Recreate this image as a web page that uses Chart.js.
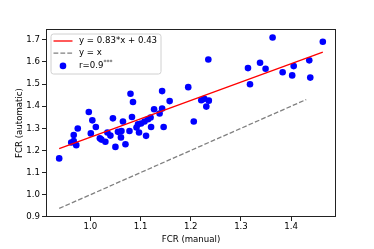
<!DOCTYPE html>
<html><head><meta charset="utf-8">
<script src="https://cdn.jsdelivr.net/npm/chart.js@4.4.0/dist/chart.umd.min.js"></script>
<style>html,body{margin:0;padding:0;background:#fff;}canvas{display:block;}</style>
</head><body>
<canvas id="c" width="374" height="249"></canvas>
<script>
// ---- data ----
const fcrManual = [0.938,0.962,0.967,0.972,0.975,0.997,1.004,1.011,1.001,1.019,1.030,1.034,1.045,1.040,1.050,1.065,1.055,1.062,1.061,1.070,1.078,1.080,1.085,1.143,1.195,1.158,1.127,1.143,1.138,1.083,1.092,1.095,1.101,1.108,1.115,1.120,1.097,1.111,1.121,1.146,1.206,1.235,1.314,1.318,1.338,1.349,1.221,1.227,1.236,1.231,1.363,1.463,1.383,1.405,1.402,1.436,1.438,0.967,1.022];
const fcrAutomatic = [1.164,1.236,1.270,1.224,1.299,1.374,1.336,1.306,1.277,1.255,1.239,1.281,1.345,1.267,1.216,1.331,1.284,1.288,1.259,1.228,1.288,1.456,1.419,1.468,1.486,1.423,1.386,1.389,1.367,1.351,1.304,1.318,1.322,1.331,1.341,1.349,1.281,1.266,1.306,1.306,1.331,1.611,1.572,1.499,1.596,1.569,1.427,1.433,1.425,1.398,1.710,1.691,1.553,1.581,1.539,1.607,1.529,1.242,1.249];
const fitSlope = 0.83;
const fitIntercept = 0.43;
const identityRange = [0.938, 1.43];
const xTicks = [1.0, 1.1, 1.2, 1.3, 1.4];
const yTicks = [0.9, 1.0, 1.1, 1.2, 1.3, 1.4, 1.5, 1.6, 1.7];
const legendLabels = ['y = 0.83*x + 0.43', 'y = x', 'r=0.9***'];
const xTitle = 'FCR (manual)';
const yTitle = 'FCR (automatic)';

// ---- derived ----
const xMin = Math.min(...fcrManual), xMax = Math.max(...fcrManual);
const fitLine = [xMin, xMax].map(x => ({x, y: fitSlope * x + fitIntercept}));
const identityLine = identityRange.map(v => ({x: v, y: v}));
const points = fcrManual.map((x, i) => ({x, y: fcrAutomatic[i]}));

function padRange(vals) {
  const lo = Math.min(...vals), hi = Math.max(...vals), p = (hi - lo) * 0.05;
  return [lo - p, hi + p];
}
const xr = padRange([...fcrManual, ...identityRange]);
const yr = padRange([...fcrAutomatic, ...fitLine.map(p => p.y), ...identityRange]);

const FONT = 'DejaVu Sans';
const FS = 8.6;
Chart.defaults.font.family = FONT;
Chart.defaults.font.size = FS;
Chart.defaults.color = '#000';

const frameAndLegend = {
  id: 'frameAndLegend',
  afterDraw(chart) {
    const ctx = chart.ctx, a = chart.chartArea;
    ctx.save();
    // frame (all four spines)
    ctx.strokeStyle = '#222';
    ctx.lineWidth = 1;
    ctx.strokeRect(Math.round(a.left) + 0.5, Math.round(a.top) + 0.5,
                   Math.round(a.right - a.left) - 1, Math.round(a.bottom - a.top) - 1);
    // legend
    const bx = a.left + 5, by = a.top + 5, bw = 110, bh = 40, r = 2.5;
    ctx.beginPath();
    ctx.moveTo(bx + r, by); ctx.lineTo(bx + bw - r, by);
    ctx.arcTo(bx + bw, by, bx + bw, by + r, r); ctx.lineTo(bx + bw, by + bh - r);
    ctx.arcTo(bx + bw, by + bh, bx + bw - r, by + bh, r); ctx.lineTo(bx + r, by + bh);
    ctx.arcTo(bx, by + bh, bx, by + bh - r, r); ctx.lineTo(bx, by + r);
    ctx.arcTo(bx, by, bx + r, by, r); ctx.closePath();
    ctx.fillStyle = 'rgba(255,255,255,0.8)';
    ctx.fill();
    ctx.strokeStyle = '#d0d0d0';
    ctx.lineWidth = 1;
    ctx.stroke();
    const ds = chart.data.datasets;
    ds.forEach((d, i) => {
      const cy = by + 7 + i * 12.2;
      const hx0 = bx + 2.5, hx1 = bx + 21.5;
      if (d.showLine) {
        ctx.beginPath();
        ctx.setLineDash(d.borderDash || []);
        ctx.strokeStyle = d.borderColor;
        ctx.lineWidth = d.borderWidth;
        ctx.moveTo(hx0, cy); ctx.lineTo(hx1, cy);
        ctx.stroke();
        ctx.setLineDash([]);
      } else {
        ctx.beginPath();
        ctx.fillStyle = d.backgroundColor;
        ctx.arc((hx0 + hx1) / 2, cy + 0.5, d.pointRadius, 0, Math.PI * 2);
        ctx.fill();
      }
      ctx.fillStyle = '#000';
      ctx.textBaseline = 'middle';
      ctx.textAlign = 'left';
      const m = d.label.match(/^(.*?)(\*+)$/);
      ctx.font = FS + 'px "' + FONT + '"';
      if (m) {
        ctx.fillText(m[1], bx + 28, cy);
        const w = ctx.measureText(m[1]).width;
        ctx.font = (FS * 0.7) + 'px "' + FONT + '"';
        ctx.fillText(m[2], bx + 28 + w, cy - 2.5);
      } else {
        ctx.fillText(d.label, bx + 28, cy);
      }
    });
    ctx.restore();
  }
};

new Chart(document.getElementById('c'), {
  type: 'scatter',
  data: {
    datasets: [
      {label: legendLabels[0], type: 'line', data: fitLine, showLine: true, borderColor: '#ff0000',
       borderWidth: 1.3, pointRadius: 0, fill: false},
      {label: legendLabels[1], type: 'line', data: identityLine, showLine: true, borderColor: '#808080',
       borderWidth: 1.3, borderDash: [4.8, 2.1], pointRadius: 0, fill: false},
      {label: legendLabels[2], data: points, showLine: false, backgroundColor: '#0000ff',
       borderWidth: 0, pointRadius: 3.3}
    ]
  },
  options: {
    responsive: false,
    animation: false,
    devicePixelRatio: 1,
    layout: {padding: {left: 0, right: 38, top: 29, bottom: 0}},
    plugins: {legend: {display: false}, tooltip: {enabled: false}},
    scales: {
      x: {
        type: 'linear', min: xr[0], max: xr[1],
        afterBuildTicks: s => { s.ticks = xTicks.map(v => ({value: v})); },
        afterFit: s => { s.height = 32; },
        ticks: {padding: 1, callback: v => v.toFixed(1), color: '#000'},
        grid: {display: true, drawOnChartArea: false, drawTicks: true, tickLength: 4, color: '#222'},
        border: {display: false},
        title: {display: true, text: xTitle, padding: {top: 0, bottom: 4}, color: '#000'}
      },
      y: {
        type: 'linear', min: yr[0], max: yr[1],
        afterBuildTicks: s => { s.ticks = yTicks.map(v => ({value: v})); },
        afterFit: s => { s.width = 46; },
        ticks: {padding: 2, callback: v => v.toFixed(1), color: '#000'},
        grid: {display: true, drawOnChartArea: false, drawTicks: true, tickLength: 4, color: '#222'},
        border: {display: false},
        title: {display: true, text: yTitle, padding: {top: 15, bottom: 0}, color: '#000'}
      }
    }
  },
  plugins: [frameAndLegend]
});
</script>
</body></html>
